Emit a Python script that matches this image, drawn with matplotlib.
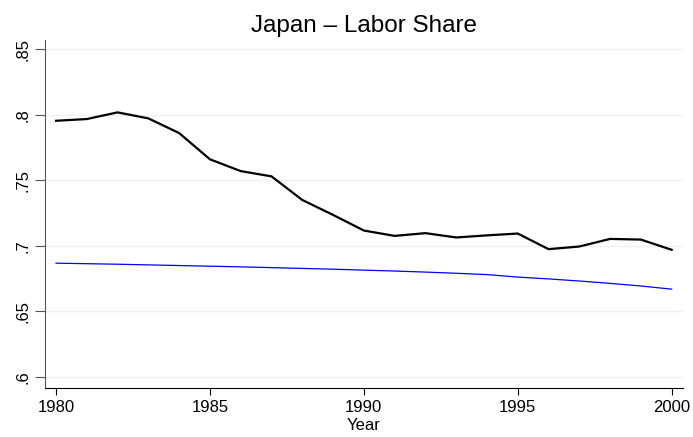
import matplotlib
matplotlib.use('Agg')
import matplotlib.pyplot as plt

plt.rcParams['font.family'] = ['Liberation Sans', 'DejaVu Sans']

years = list(range(1980, 2001))
labor_share = [.7954, .7967, .8018, .7972, .786, .766, .757, .753, .735, .7236,
               .7117, .7076, .7097, .7064, .708, .7094, .6975, .6995, .7053, .7048, .697]
trend = [.6868, .6864, .6860, .6855, .6850, .6845, .6840, .6834, .6828, .6822,
         .6815, .6808, .6800, .6791, .6781, .6762, .6748, .6732, .6714, .6694, .6670]
yticks = [.6, .65, .7, .75, .8, .85]
ytick_labels = ['.6', '.65', '.7', '.75', '.8', '.85']
xticks = [1980, 1985, 1990, 1995, 2000]

fig = plt.figure(figsize=(6.93, 4.37), dpi=100)
ax = fig.add_axes([0.0649, 0.1121, 0.9207, 0.7964])

ax.plot(years, labor_share, color='black', lw=1.6)
ax.plot(years, trend, color='#0000ff', lw=0.9)

ax.set_xlim(1979.64, 2000.37)
ax.set_ylim(0.5916, 0.857)
ax.set_yticks(yticks)
ax.set_yticklabels(ytick_labels, rotation=90, va='center')
ax.set_xticks(xticks)
ax.tick_params(axis='both', labelsize=12, direction='out')
ax.tick_params(axis='y', length=7, color='#555555')
ax.tick_params(axis='x', length=5)
ax.grid(axis='y', color='#eaf2f3', lw=1)
ax.set_axisbelow(True)

for s in ['top', 'right']:
    ax.spines[s].set_visible(False)
ax.spines['left'].set_color('#555555')

ax.set_xlabel('Year', fontsize=12, labelpad=2)
ax.set_title('Japan \u2013 Labor Share', fontsize=17.5, pad=6)

fig.savefig('out.png', dpi=100)
